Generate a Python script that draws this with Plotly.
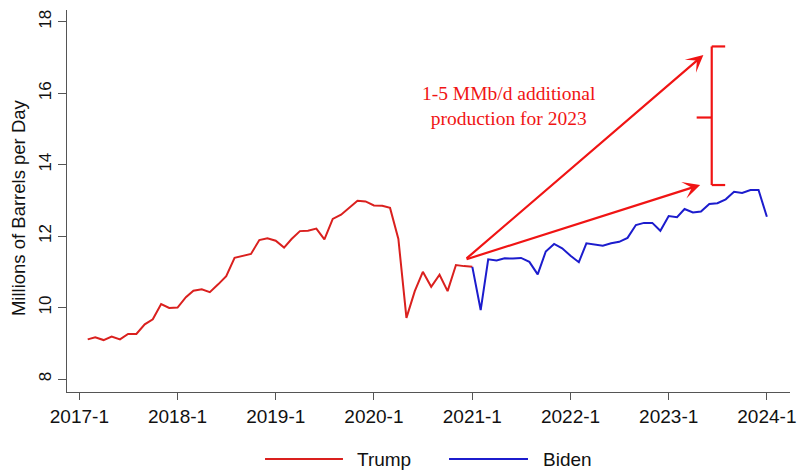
import pandas as pd
import plotly.graph_objects as go

# ---- data (monthly US crude production, MMb/d) ----
trump_start = "2017-02-01"
trump_values = [9.11, 9.17, 9.09, 9.19, 9.11, 9.26, 9.26, 9.53, 9.67, 10.10, 9.99, 10.00,
                10.29, 10.47, 10.51, 10.43, 10.65, 10.88, 11.39, 11.44, 11.50, 11.89, 11.94, 11.87,
                11.68, 11.92, 12.14, 12.15, 12.21, 11.91, 12.48, 12.60, 12.80, 12.99, 12.97, 12.86,
                12.85, 12.79, 11.92, 9.71, 10.46, 11.00, 10.58, 10.92, 10.46, 11.19, 11.16, 11.14]
biden_start = "2021-01-01"
biden_values = [11.14, 9.93, 11.35, 11.32, 11.38, 11.37, 11.39, 11.28, 10.93, 11.57, 11.78, 11.66,
                11.45, 11.27, 11.80, 11.76, 11.73, 11.80, 11.84, 11.95, 12.31, 12.37, 12.37, 12.15,
                12.56, 12.53, 12.76, 12.66, 12.69, 12.90, 12.92, 13.03, 13.24, 13.21, 13.29, 13.29,
                12.54]
tick_dates = ["2017-01-01", "2018-01-01", "2019-01-01", "2020-01-01",
              "2021-01-01", "2022-01-01", "2023-01-01", "2024-01-01"]
tick_labels = ["2017-1", "2018-1", "2019-1", "2020-1", "2021-1", "2022-1", "2023-1", "2024-1"]
y_ticks = [8, 10, 12, 14, 16, 18]
series_names = ["Trump", "Biden"]
y_title = "Millions of Barrels per Day"

# annotation geometry (data coordinates)
arrow_tail = ("2020-12-05", 11.34)
arrow_heads = [("2023-05-10", 17.07), ("2023-04-28", 13.43)]
brace_x, brace_serif_x, brace_notch_x = "2023-06-10", "2023-07-30", "2023-04-15"
brace_top, brace_bottom, brace_mid = 17.31, 13.43, 15.32
note_pos = ("2021-05-16", 15.64)
note_text = "1-5 MMb/d additional<br>production for 2023"

trump_dates = pd.date_range(trump_start, periods=len(trump_values), freq="MS")
biden_dates = pd.date_range(biden_start, periods=len(biden_values), freq="MS")

RED = "rgb(218,32,30)"
BLUE = "rgb(28,28,205)"
ANN = "rgb(240,20,20)"
AXIS = "#555555"

fig = go.Figure()
fig.add_trace(go.Scatter(x=trump_dates, y=trump_values, mode="lines", name=series_names[0],
                         line=dict(color=RED, width=2), showlegend=False))
fig.add_trace(go.Scatter(x=biden_dates, y=biden_values, mode="lines", name=series_names[1],
                         line=dict(color=BLUE, width=2), showlegend=False))

for hx, hy in arrow_heads:
    fig.add_annotation(x=hx, y=hy, ax=arrow_tail[0], ay=arrow_tail[1], xref="x", yref="y",
                       axref="x", ayref="y", showarrow=True, arrowhead=3, arrowsize=1.3,
                       arrowwidth=2.2, arrowcolor=ANN, text="")

line_style = dict(color=ANN, width=2.2)
fig.add_shape(type="line", x0=brace_x, x1=brace_x, y0=brace_bottom, y1=brace_top, line=line_style)
fig.add_shape(type="line", x0=brace_x, x1=brace_serif_x, y0=brace_top, y1=brace_top, line=line_style)
fig.add_shape(type="line", x0=brace_x, x1=brace_serif_x, y0=brace_bottom, y1=brace_bottom, line=line_style)
fig.add_shape(type="line", x0=brace_notch_x, x1=brace_x, y0=brace_mid, y1=brace_mid, line=line_style)

fig.add_annotation(x=note_pos[0], y=note_pos[1], text=note_text, showarrow=False,
                   font=dict(family="Liberation Serif, Times New Roman, serif", size=19.5, color=ANN),
                   align="center")

# y-axis title
fig.add_annotation(xref="paper", yref="paper", x=-0.0678, y=0.484, text=y_title, showarrow=False,
                   textangle=-90, xanchor="center", yanchor="middle",
                   font=dict(family="Liberation Sans, Arial, sans-serif", size=18.5, color="#111"))

# custom legend below the plot
legend_items = [(series_names[0], RED, 0.2739, 0.3817, 0.3983),
                (series_names[1], BLUE, 0.5284, 0.6376, 0.6556)]
for name, col, x0, x1, xt in legend_items:
    fig.add_shape(type="line", xref="paper", yref="paper", x0=x0, x1=x1, y0=-0.1754, y1=-0.1754,
                  line=dict(color=col, width=2))
    fig.add_annotation(xref="paper", yref="paper", x=xt, y=-0.1754, text=name, showarrow=False,
                       xanchor="left", yanchor="middle",
                       font=dict(family="Liberation Sans, Arial, sans-serif", size=19, color="#111"))

fig.update_layout(
    width=797, height=470,
    margin=dict(l=67, r=7, t=10, b=78),
    plot_bgcolor="white", paper_bgcolor="white",
    font=dict(family="Liberation Sans, Arial, sans-serif", color="#111"),
    showlegend=False,
)
fig.update_xaxes(type="date", range=["2016-11-16", "2024-03-27"], automargin=False,
                 tickvals=tick_dates, ticktext=tick_labels,
                 showgrid=False, zeroline=False, showline=True, linecolor=AXIS, linewidth=1.2,
                 ticks="outside", ticklen=7, tickcolor=AXIS, tickwidth=1.2,
                 tickfont=dict(size=19, color="#111"))
fig.update_yaxes(range=[7.636, 18.33], tickvals=y_ticks, tickangle=-90, automargin=False,
                 showgrid=False, zeroline=False, showline=True, linecolor=AXIS, linewidth=1.2,
                 ticks="outside", ticklen=8, tickcolor=AXIS, tickwidth=1.2,
                 tickfont=dict(size=17, color="#111"))

# remove the page's default body margin so the figure sits at the window origin
fig.write_html("out.html", config={"displayModeBar": False},
               post_script="document.body.style.margin='0px';document.body.style.overflow='hidden';")
